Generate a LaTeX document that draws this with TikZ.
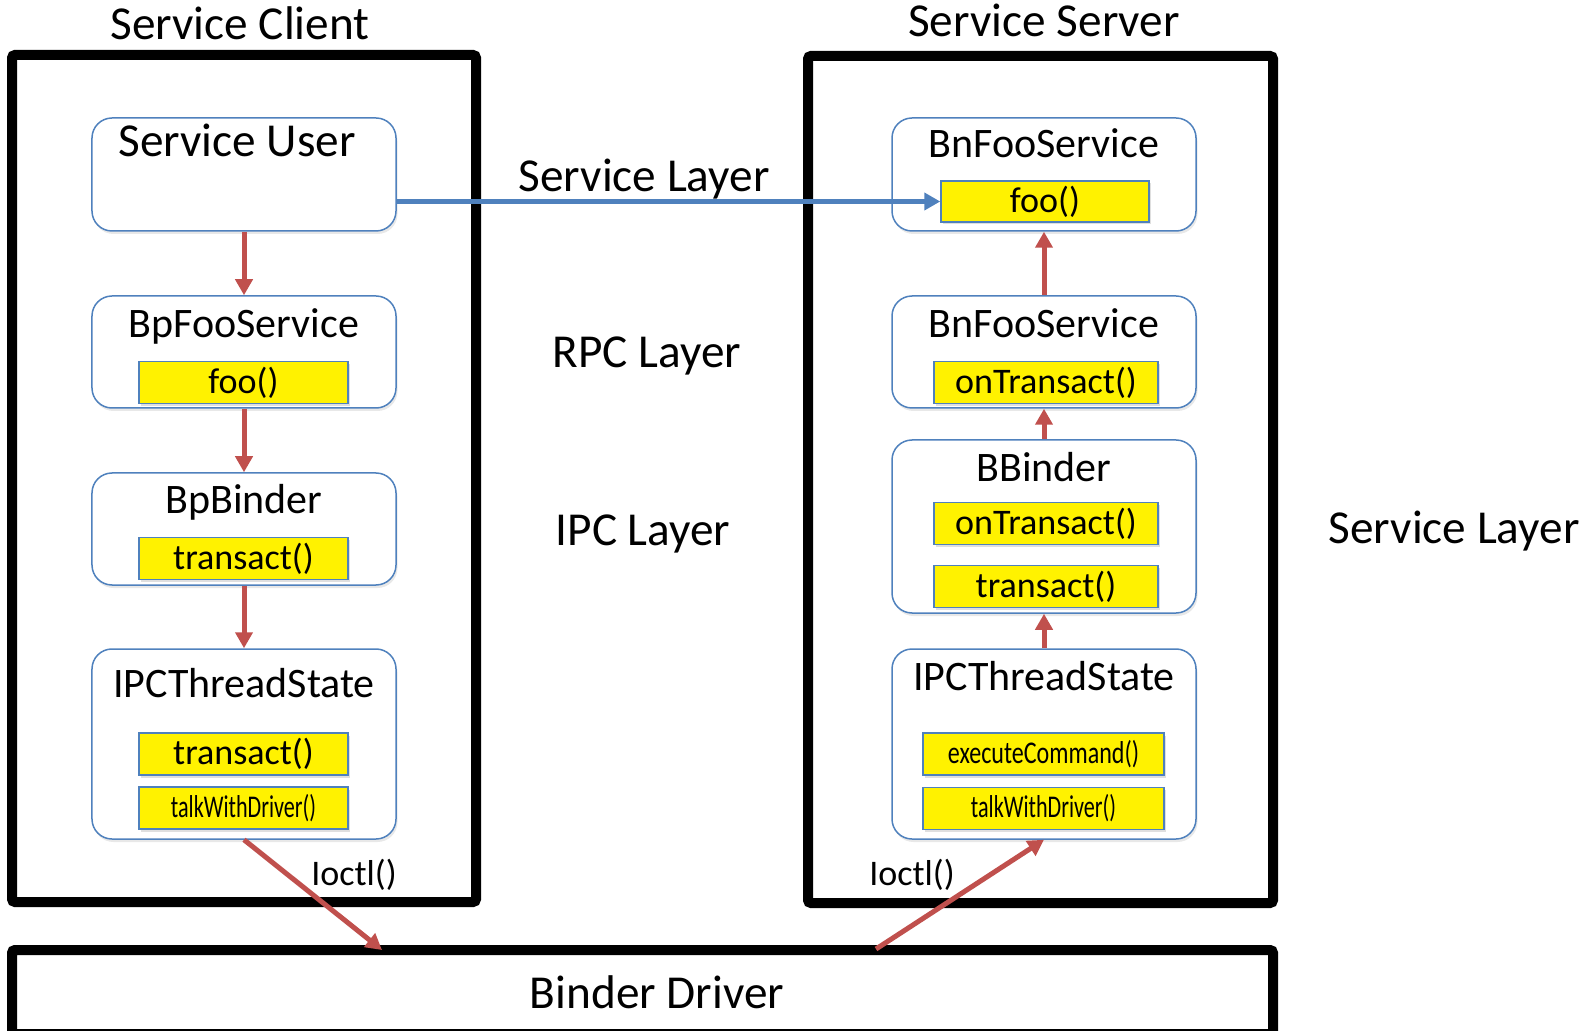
\documentclass[tikz,border=0pt]{standalone}
\usepackage{fontspec}
\setmainfont{Carlito}
\usepackage{graphicx}
\usepackage{tikz}
\usetikzlibrary{arrows.meta,shadows,positioning}
\definecolor{boxblue}{HTML}{4F81BD}
\definecolor{arrred}{HTML}{C0504D}
\newcommand\lblfont{\fontsize{26.9}{30}\selectfont}
\newcommand\ttlfont{\fontsize{23.9}{27}\selectfont}
\newcommand\fnfont{\fontsize{20.5}{23}\selectfont}
\newcommand\tinyfn{\fontsize{18}{20}\selectfont}
\tikzset{
  bigbox/.style={draw=black,line width=2mm,rounded corners=0.6mm},
  objbox/.style={draw=boxblue,line width=0.3mm,fill=white,rounded corners=4mm,
    minimum width=60.8mm,inner sep=0pt,
    drop shadow={opacity=0.18,shadow xshift=0.3mm,shadow yshift=-0.6mm}},
  fnbox/.style={draw=boxblue,line width=0.3mm,fill=yellow,inner sep=0pt,
    minimum height=8.4mm,font=\fnfont,
    drop shadow={opacity=0.25,shadow xshift=0.3mm,shadow yshift=-0.5mm}},
  lbl/.style={anchor=base,font=\lblfont},
  ttl/.style={anchor=base,font=\ttlfont},
  callarr/.style={draw=arrred,line width=1mm,-{Triangle[length=3.2mm,width=3.4mm]}},
  svcarr/.style={draw=boxblue,line width=1mm,-{Triangle[length=3.2mm,width=3.4mm]}}
}
\begin{document}
\begin{tikzpicture}[x=0.2mm,y=-0.2mm]
\useasboundingbox (0,0) rectangle (1596,1031);
\draw[bigbox] (12,55) rectangle (476,902);
\draw[bigbox] (808,56) rectangle (1273,903);
\draw[bigbox] (12,950) rectangle (1273,1034);
\node[lbl] (client) at (240,40) {Service Client};
\node[lbl] (server) at (1044,37) {Service Server};
\node[lbl] (drvtxt) at (657,1008) {Binder Driver};
\node[lbl] (svclayer) at (644,192) {Service Layer};
\node[lbl] (rpclayer) at (647,368) {RPC Layer};
\node[lbl] (ipclayer) at (643,545) {IPC Layer};
\node[lbl] (svclayer2) at (1454,543) {Service Layer};

\node[objbox,minimum height=22.6mm] (su) at (244,174.5) {};
\node[lbl] at (237,157) {Service User};
\node[objbox,minimum height=22.4mm] (bpfoo) at (244,352) {};
\node[ttl] at (244,338) {BpFooService};
\node[fnbox,minimum width=41.8mm] (bpfoofn) at (243.5,382.5) {foo()};
\node[objbox,minimum height=22.4mm] (bpb) at (244,529) {};
\node[ttl] at (244,513) {BpBinder};
\node[fnbox,minimum width=41.8mm] (bpbfn) at (243.5,558.5) {transact()};
\node[objbox,minimum height=38mm] (ipcl) at (244,744) {};
\node[ttl] at (244,697) {IPCThreadState};
\node[fnbox,minimum width=41.8mm] (ipcltr) at (243.5,754) {transact()};
\node[fnbox,minimum width=41.8mm] (ipcltalk) at (243.5,808) {\tinyfn\scalebox{0.70}[1]{talkWithDriver()}};

\node[objbox,minimum height=22.6mm] (bnfoo) at (1044,174.5) {};
\node[ttl] at (1044,158) {BnFooService};
\node[fnbox,minimum width=41.6mm,minimum height=8.2mm] (bnfoofn) at (1045,201.5) {foo()};
\node[objbox,minimum height=22.4mm] (bnfoo2) at (1044,352) {};
\node[ttl] at (1044,338) {BnFooService};
\node[fnbox,minimum width=44.8mm] (bnfoo2fn) at (1046,382.5) {onTransact()};
\node[objbox,minimum height=34.6mm] (bb) at (1044,526.5) {};
\node[ttl] at (1044,482) {BBinder};
\node[fnbox,minimum width=44.8mm] (bbon) at (1046,523.5) {onTransact()};
\node[fnbox,minimum width=44.8mm] (bbtr) at (1046,586.5) {transact()};
\node[objbox,minimum height=38mm] (ipcr) at (1044,744) {};
\node[ttl] at (1044,690) {IPCThreadState};
\node[fnbox,minimum width=48.2mm] (ipcrex) at (1043.5,754) {\tinyfn\scalebox{0.76}[1]{executeCommand()}};
\node[fnbox,minimum width=48.2mm] (ipcrtalk) at (1043.5,808.5) {\tinyfn\scalebox{0.70}[1]{talkWithDriver()}};

\coordinate (drvin) at (382,950);
\coordinate (drvout) at (876,949);
\node[font=\fnfont] (ioctll) at (354,875) {Ioctl()};
\node[font=\fnfont] (ioctlr) at (912,875) {Ioctl()};

\draw[svcarr] (bnfoofn.west -| su.east) -- (bnfoofn.west);
\draw[callarr] (su.south) -- (bpfoo.north);
\draw[callarr] (bpfoo.south) -- (bpb.north);
\draw[callarr] (bpb.south) -- (ipcl.north);
\draw[callarr] (ipcl.south) -- (drvin);
\draw[callarr] (drvout) -- (ipcr.south);
\draw[callarr] (ipcr.north) -- (bb.south);
\draw[callarr] (bb.north) -- (bnfoo2.south);
\draw[callarr] (bnfoo2.north) -- (bnfoo.south);
\end{tikzpicture}
\end{document}
